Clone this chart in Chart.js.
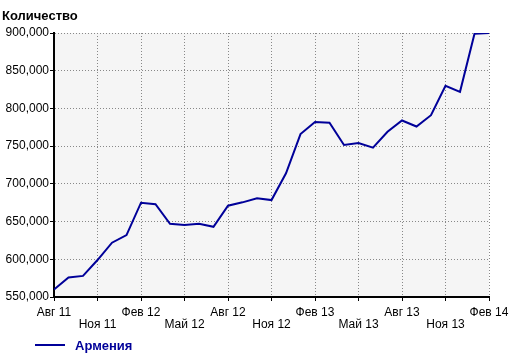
<!DOCTYPE html>
<html>
<head>
<meta charset="utf-8">
<script src="https://cdn.jsdelivr.net/npm/chart.js@4.4.1/dist/chart.umd.min.js"></script>
<style>
  html, body { margin: 0; padding: 0; background: #fff; }
  #wrap { width: 522px; height: 358px; position: relative; }
</style>
</head>
<body>
<div id="wrap"><canvas id="chart" width="522" height="358"></canvas></div>
<script>
// Monthly labels, Aug 2011 .. Feb 2014
var months = [
  'Авг 11', 'Сен 11', 'Окт 11', 'Ноя 11', 'Дек 11', 'Янв 12',
  'Фев 12', 'Мар 12', 'Апр 12', 'Май 12', 'Июн 12', 'Июл 12',
  'Авг 12', 'Сен 12', 'Окт 12', 'Ноя 12', 'Дек 12', 'Янв 13',
  'Фев 13', 'Мар 13', 'Апр 13', 'Май 13', 'Июн 13', 'Июл 13',
  'Авг 13', 'Сен 13', 'Окт 13', 'Ноя 13', 'Дек 13', 'Янв 14',
  'Фев 14'
];
var armenia = [
  560000, 576000, 578000, 599000, 622000, 632000,
  675000, 673000, 647000, 645500, 647000, 643000,
  671000, 675500, 681000, 678500, 714000, 766000,
  782000, 781000, 751500, 754000, 748000, 769000,
  784000, 776000, 791000, 830000, 822000, 899000,
  900000
];
var yTicks = { min: 550000, max: 900000, step: 50000 };
var seriesName = 'Армения';
var yTitle = 'Количество';
var lineColor = '#000099';
var fontFamily = '"Liberation Sans", Arial, sans-serif';

var points = armenia.map(function(v, i) { return { x: i, y: v }; });

// plot background + title + legend
var decor = {
  id: 'decor',
  beforeDraw: function(chart) {
    var a = chart.chartArea, ctx = chart.ctx;
    ctx.save();
    ctx.fillStyle = '#f5f5f5';
    ctx.fillRect(a.left, a.top, a.right - a.left, a.bottom - a.top);
    ctx.restore();
  },
  afterDraw: function(chart) {
    var ctx = chart.ctx;
    ctx.save();
    ctx.font = 'bold 13px ' + fontFamily;
    ctx.fillStyle = '#000';
    ctx.textBaseline = 'middle';
    ctx.fillText(yTitle, 2, 16);
    // legend
    ctx.strokeStyle = lineColor;
    ctx.lineWidth = 2;
    ctx.beginPath();
    ctx.moveTo(35, 345);
    ctx.lineTo(65, 345);
    ctx.stroke();
    ctx.fillStyle = lineColor;
    ctx.fillText(seriesName, 75, 346);
    ctx.restore();
  }
};

new Chart(document.getElementById('chart'), {
  type: 'line',
  data: {
    datasets: [{
      label: seriesName,
      data: points,
      borderColor: lineColor,
      backgroundColor: lineColor,
      borderWidth: 2,
      pointRadius: 0,
      tension: 0,
      fill: false
    }]
  },
  options: {
    responsive: false,
    animation: false,
    layout: { padding: { top: 33, right: 33, left: 0, bottom: 28 } },
    plugins: {
      legend: { display: false },
      tooltip: { enabled: false }
    },
    scales: {
      x: {
        type: 'linear',
        min: 0,
        max: months.length - 1,
        afterFit: function(s) { s.height = 33; },
        afterBuildTicks: function(s) {
          var t = [];
          for (var i = 0; i < months.length; i += 3) t.push({ value: i });
          s.ticks = t;
        },
        ticks: {
          autoSkip: false,
          maxRotation: 0,
          padding: 6,
          color: '#000',
          font: { family: fontFamily, size: 12, lineHeight: 1.0 },
          callback: function(v) {
            var label = months[v];
            return (v / 3) % 2 === 0 ? label : ['', label];
          }
        },
        grid: {
          color: '#888',
          tickColor: '#000',
          tickBorderDash: [],
          tickLength: 4,
          tickWidth: 1
        },
        border: { color: '#000', width: 2, dash: [1, 2] }
      },
      y: {
        min: yTicks.min,
        max: yTicks.max,
        afterFit: function(s) { s.width = 54; },
        ticks: {
          stepSize: yTicks.step,
          padding: 1,
          color: '#000',
          font: { family: fontFamily, size: 12 },
          callback: function(v) { return v.toLocaleString('en-US'); }
        },
        grid: {
          color: '#888',
          tickColor: '#000',
          tickBorderDash: [],
          tickLength: 4,
          tickWidth: 1
        },
        border: { color: '#000', width: 2, dash: [1, 2] }
      }
    }
  },
  plugins: [decor]
});
</script>
</body>
</html>
